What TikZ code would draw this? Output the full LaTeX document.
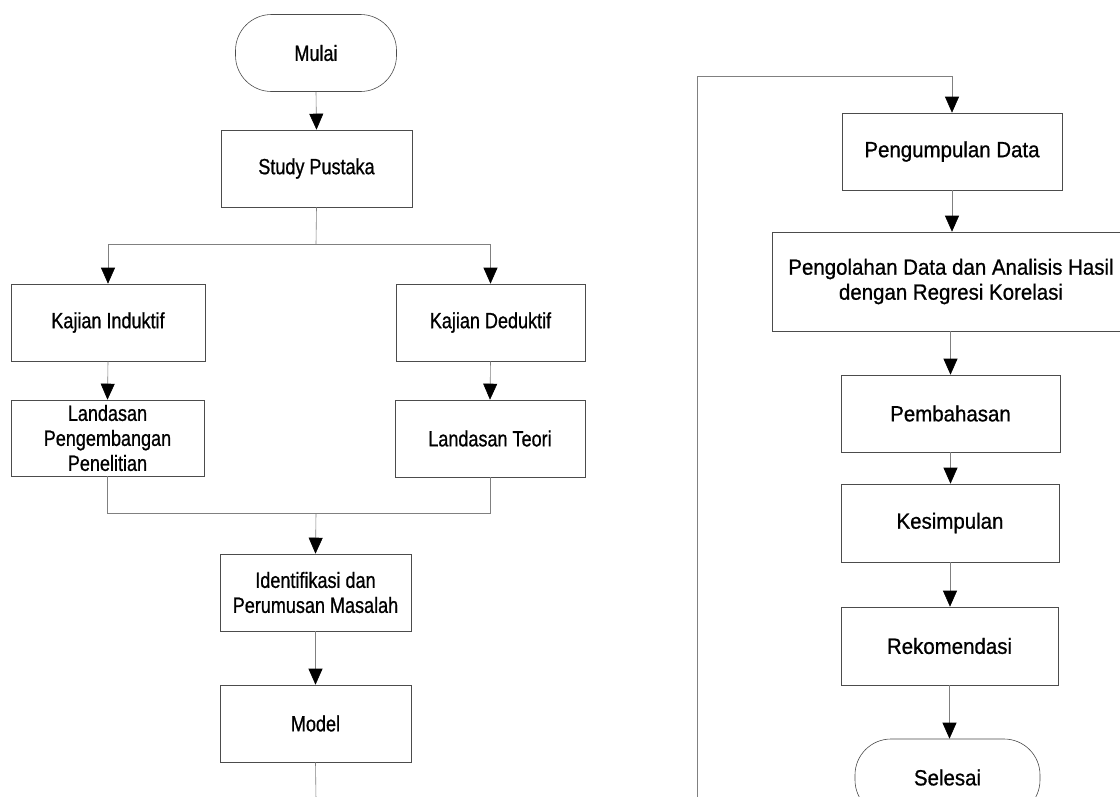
\documentclass[tikz,border=0pt]{standalone}
\usepackage{fontspec}
\setmainfont{Liberation Sans}
\newfontfamily\leftfnt[FakeStretch=0.82,FakeBold=0.8]{Liberation Sans}
\newfontfamily\rightfnt[FakeStretch=0.93,FakeBold=0.8]{Liberation Sans}
\usetikzlibrary{arrows.meta,positioning}
\begin{document}
\begin{tikzpicture}[x=1pt,y=-1pt,
  boxL/.style={draw=black!70, line width=0.6pt, rectangle, minimum width=#1, minimum height=77pt, align=center, inner sep=0pt, font=\leftfnt\fontsize{22}{25}\selectfont},
  boxL/.default=191pt,
  boxR/.style={draw=black!70, line width=0.6pt, rectangle, minimum width=#1, minimum height=77pt, align=center, inner sep=0pt, font=\rightfnt\fontsize{22}{25}\selectfont},
  boxR/.default=219pt,
  termL/.style={boxL=161pt, rounded corners=36pt},
  termR/.style={boxR=185pt, rounded corners=36pt},
  conn/.style={draw=black!50, line width=0.6pt},
  arr/.style={conn, -{Triangle[width=14pt,length=16pt,color=black]}}
]
\useasboundingbox (0,0) rectangle (1120,796);
\fill[white] (0,0) rectangle (1120,796);
\clip (0,0) rectangle (1120,796);

% left column
\node[termL] (mulai) at (316,53) {Mulai};
\node[boxL] (study) at (316.5,168.5) {Study Pustaka};
\node[boxL=194pt] (kind) at (108,322.5) {Kajian Induktif};
\node[boxL=189pt] (kded) at (490.5,322.5) {Kajian Deduktif};
\node[boxL=193pt, minimum height=76pt] (land1) at (107.5,438) {Landasan\\Pengembangan\\Penelitian};
\node[boxL=190pt] (land2) at (490,438.5) {Landasan Teori};
\node[boxL] (ident) at (315.5,592.5) {Identifikasi dan\\Perumusan Masalah};
\node[boxL] (model) at (315.5,723.5) {Model};

\coordinate (br) at (316,244);
\coordinate (mg) at (316,513);
\coordinate (endL) at (316,800);

\draw[arr] (mulai.south) -- (study.north);
\draw[conn] (study.south) -- (br);
\draw[arr] (br) -| (kind.north);
\draw[arr] (br) -| (kded.north);
\draw[arr] (kind.south) -- (land1.north);
\draw[arr] (kded.south) -- (land2.north);
\draw[conn] (land1.south) |- (mg);
\draw[conn] (land2.south) |- (mg);
\draw[arr] (mg) -- (ident.north);
\draw[arr] (ident.south) -- (model.north);
\draw[conn] (model.south) -- (endL);

% right column
\node[boxR=220pt] (peng) at (952,151.5) {Pengumpulan Data};
\node[boxR=358pt, minimum height=99pt] (olah) at (951,281.5) {Pengolahan Data dan Analisis Hasil\\dengan Regresi Korelasi};
\node[boxR] (bahas) at (950.5,413.5) {Pembahasan};
\node[boxR=218pt, minimum height=78pt] (simp) at (950,523) {Kesimpulan};
\node[boxR=217pt, minimum height=78pt] (rekom) at (949.5,646) {Rekomendasi};
\node[termR] (selesai) at (947.5,777.5) {Selesai};

\coordinate (startR) at (697,800);
\coordinate (topR) at (697,76);

\draw[arr] (startR) -- (topR) -| (peng.north);
\draw[arr] (peng.south) -- (peng.south |- olah.north);
\draw[arr] (olah.south -| bahas.north) -- (bahas.north);
\draw[arr] (bahas.south) -- (bahas.south |- simp.north);
\draw[arr] (simp.south) -- (simp.south |- rekom.north);
\draw[arr] (rekom.south) -- (rekom.south |- selesai.north);
\end{tikzpicture}
\end{document}
